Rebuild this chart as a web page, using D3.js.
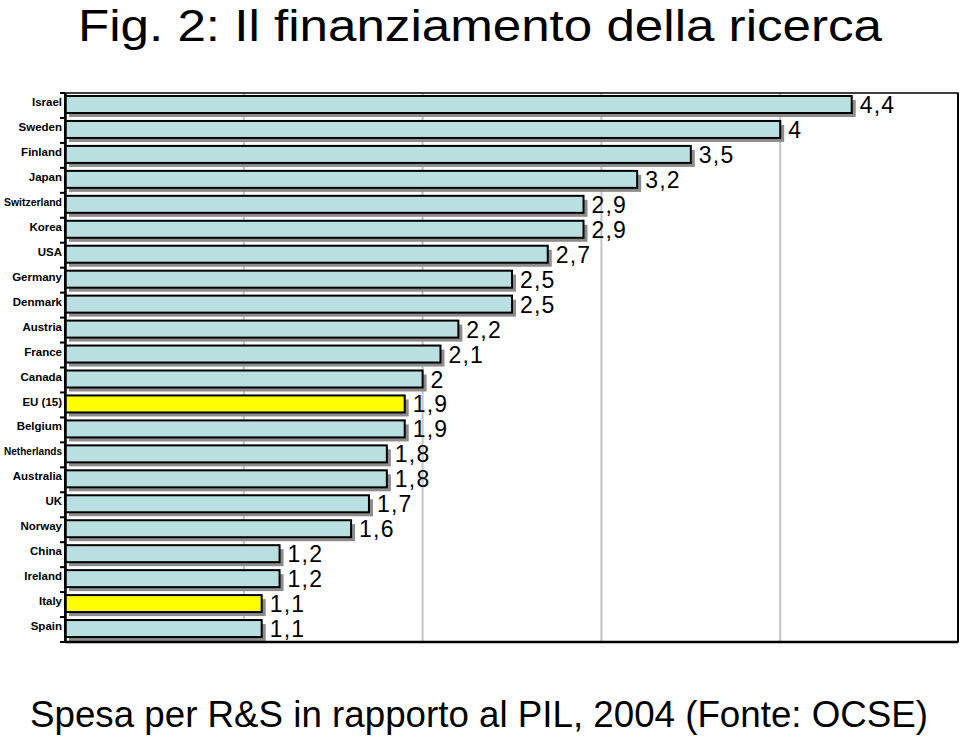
<!DOCTYPE html>
<html><head><meta charset="utf-8">
<script src="https://cdn.jsdelivr.net/npm/d3@7"></script>
<style>body{margin:0;background:#fff}svg{display:block}</style>
</head><body>
<svg id="c" width="960" height="738"></svg>
<script>
const countries = ["Israel","Sweden","Finland","Japan","Switzerland","Korea","USA","Germany","Denmark","Austria","France","Canada","EU (15)","Belgium","Netherlands","Australia","UK","Norway","China","Ireland","Italy","Spain"];
const values = [4.4,4,3.5,3.2,2.9,2.9,2.7,2.5,2.5,2.2,2.1,2,1.9,1.9,1.8,1.8,1.7,1.6,1.2,1.2,1.1,1.1];
const highlighted = ["EU (15)","Italy"];
const gridTicks = [1,2,3,4];
const titleText = "Fig. 2: Il finanziamento della ricerca";
const subtitleText = "Spesa per R&S in rapporto al PIL, 2004 (Fonte: OCSE)";

const svg = d3.select("#c");
const L = 65, R = 959, T = 93, B = 642;
const x = d3.scaleLinear().domain([0,5]).range([L,R]);
const y = d3.scaleBand().domain(countries).range([T,B]);
const FONT = "Liberation Sans, Arial, Helvetica, sans-serif";

// title
svg.append("text").attr("x",480).attr("y",41).attr("text-anchor","middle")
  .attr("font-family",FONT).attr("font-size",44)
  .attr("textLength",804).attr("lengthAdjust","spacingAndGlyphs").text(titleText);
svg.append("text").attr("x",479).attr("y",727).attr("text-anchor","middle")
  .attr("font-family",FONT).attr("font-size",36)
  .attr("textLength",898).attr("lengthAdjust","spacingAndGlyphs").text(subtitleText);

// gridlines
svg.append("g").selectAll("line").data(gridTicks).join("line")
  .attr("x1",d=>x(d)).attr("x2",d=>x(d)).attr("y1",T).attr("y2",B)
  .attr("stroke","#c4c4c4").attr("stroke-width",2);

// shadows
const barTop = 3, barH = 17, sh = 4;
svg.append("g").selectAll("rect").data(countries).join("rect")
  .attr("x",L+sh).attr("y",d=>y(d)+barTop+sh)
  .attr("width",(d,i)=>x(values[i])-L).attr("height",barH)
  .attr("fill","#8c8c8c");
// bars
svg.append("g").selectAll("rect").data(countries).join("rect")
  .attr("x",L).attr("y",d=>y(d)+barTop)
  .attr("width",(d,i)=>x(values[i])-L).attr("height",barH)
  .attr("fill",d=>highlighted.includes(d)?"#ffff00":"#b9dfe1")
  .attr("stroke","#000").attr("stroke-width",2);

// value labels
svg.append("g").selectAll("text").data(countries).join("text")
  .attr("x",(d,i)=>x(values[i])+8).attr("y",d=>y(d)+barTop+barH)
  .attr("font-family",FONT).attr("font-size",23).attr("letter-spacing",1.2)
  .text((d,i)=>String(values[i]).replace(".",","));

// frame
svg.append("rect").attr("x",L).attr("y",T).attr("width",R-1-L).attr("height",B-T)
  .attr("fill","none").attr("stroke","#000").attr("stroke-width",1.5);
svg.append("line").attr("x1",L).attr("x2",R-1).attr("y1",B).attr("y2",B).attr("stroke","#000").attr("stroke-width",2.5);
svg.append("line").attr("x1",R-1).attr("x2",R-1).attr("y1",T).attr("y2",B).attr("stroke","#000").attr("stroke-width",2);

// left axis
const yAxis = d3.axisLeft(y).tickSize(0).tickPadding(3);
const ga = svg.append("g").attr("transform",`translate(${L},0)`).call(yAxis);
ga.select(".domain").attr("stroke","#000").attr("stroke-width",2.5);
ga.selectAll("text").attr("font-family",FONT)
  .attr("font-size",11.5).attr("font-weight","bold").attr("fill","#000").attr("dy","0.05em")
  .each(function(){
    const w = this.getComputedTextLength();
    if (w > 58) d3.select(this).attr("textLength",58).attr("lengthAdjust","spacingAndGlyphs");
  });
// boundary ticks
const bounds = countries.map(d=>y(d)).concat([B]);
svg.append("g").selectAll("line").data(bounds).join("line")
  .attr("x1",L-5).attr("x2",L).attr("y1",d=>d).attr("y2",d=>d)
  .attr("stroke","#000").attr("stroke-width",2);
</script>
</body></html>
